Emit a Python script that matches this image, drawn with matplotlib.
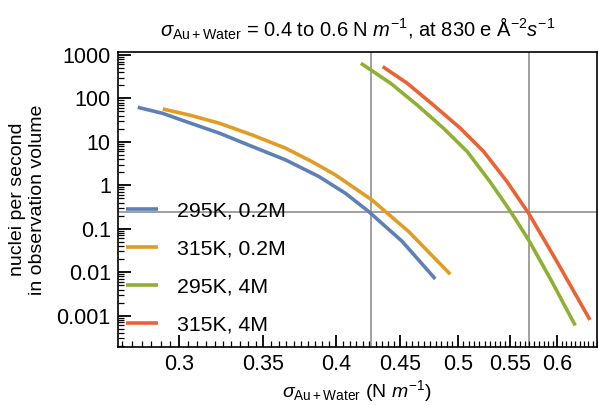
import matplotlib
matplotlib.use("Agg")
import matplotlib.pyplot as plt
from matplotlib.ticker import FixedLocator, NullFormatter

plt.rcParams["font.family"] = ["Liberation Sans", "DejaVu Sans"]
plt.rcParams["mathtext.fontset"] = "custom"
plt.rcParams["mathtext.rm"] = "Liberation Sans"
plt.rcParams["mathtext.it"] = "Liberation Sans:italic"

# values (sigma in N/m, rate in nuclei/s)
labels = ["295K, 0.2M", "315K, 0.2M", "295K, 4M", "315K, 4M"]
colors = ["#5E81B5", "#E19C24", "#8FB032", "#EB6235"]

sigma_295_02 = [0.278, 0.291, 0.3037, 0.323, 0.343, 0.3646, 0.3876, 0.4068, 0.4245, 0.4513, 0.4797]
rate_295_02 = [62, 45, 29.1, 15.7, 7.76, 3.82, 1.58, 0.655, 0.249, 0.0516, 0.0070]

sigma_315_02 = [0.291, 0.3055, 0.323, 0.343, 0.3646, 0.3828, 0.3995, 0.4271, 0.4568, 0.493]
rate_315_02 = [56.8, 41.3, 26.6, 14.3, 7.1, 3.47, 1.72, 0.459, 0.0863, 0.009]

sigma_295_4 = [0.4185, 0.442, 0.464, 0.487, 0.5086, 0.5307, 0.5505, 0.5692, 0.594, 0.620]
rate_295_4 = [638, 221, 70, 20.4, 5.95, 1.17, 0.252, 0.0553, 0.0061, 5.96e-4]

sigma_315_4 = [0.4356, 0.4557, 0.478, 0.5023, 0.5242, 0.547, 0.5692, 0.5995, 0.637]
rate_315_4 = [535, 221, 70, 20.4, 5.95, 1.22, 0.227, 0.0176, 8.0e-4]

series = [(sigma_295_02, rate_295_02), (sigma_315_02, rate_315_02),
          (sigma_295_4, rate_295_4), (sigma_315_4, rate_315_4)]

grid_x = [0.426, 0.570]
grid_y = 0.24
xticks = [0.3, 0.35, 0.4, 0.45, 0.5, 0.55, 0.6]
xtick_labels = ["0.3", "0.35", "0.4", "0.45", "0.5", "0.55", "0.6"]
xminor = [round(0.27 + 0.005 * i, 3) for i in range(76)]
yticks = [0.001, 0.01, 0.1, 1, 10, 100, 1000]
ytick_labels = ["0.001", "0.01", "0.1", "1", "10", "100", "1000"]

fig = plt.figure(figsize=(5.98, 4.05), dpi=100)
ax = fig.add_axes([0.197, 0.143, 0.801, 0.729])

for gx in grid_x:
    ax.axvline(gx, color="#999999", lw=1.3, zorder=1)
ax.axhline(grid_y, color="#999999", lw=1.3, zorder=1)

for (s, r), lab, c in zip(series, labels, colors):
    ax.plot(s, r, color=c, lw=2.6, label=lab, solid_capstyle="butt",
            solid_joinstyle="round", zorder=3)

ax.set_xscale("log")
ax.set_yscale("log")
ax.set_xlim(0.268, 0.645)
ax.set_ylim(1.9e-4, 1170)

# x: major every 0.05, minor every 0.005
ax.xaxis.set_major_locator(FixedLocator(xticks))
ax.set_xticklabels(xtick_labels)
ax.xaxis.set_minor_locator(FixedLocator(xminor))
ax.xaxis.set_minor_formatter(NullFormatter())

# y: decades, with dense minor ticks
ax.yaxis.set_major_locator(FixedLocator(yticks))
ax.set_yticklabels(ytick_labels)
yminor = [m * 10.0 ** e for e in range(-4, 4) for m in (2, 3, 4, 5, 6, 7, 8, 9)]
ax.yaxis.set_minor_locator(FixedLocator(yminor))
ax.yaxis.set_minor_formatter(NullFormatter())

ax.tick_params(axis="both", which="major", direction="in", length=9, width=1.3,
               labelsize=15.5, color="black", pad=5)
ax.tick_params(axis="both", which="minor", direction="in", length=4.5, width=0.9,
               color="black")
ax.tick_params(axis="x", which="both", bottom=True, top=False)
ax.tick_params(axis="y", which="both", left=True, right=False)
for sp in ax.spines.values():
    sp.set_linewidth(1.2)

ax.set_xlabel(r"$\sigma_{\mathrm{Au+Water}}$ (N $m^{-1}$)", fontsize=14, labelpad=2)
ax.set_ylabel("nuclei per second\nin observation volume", fontsize=14, labelpad=8)
ax.set_title(r"$\sigma_{\mathrm{Au+Water}}$ = 0.4 to 0.6 N $m^{-1}$, at 830 e Å$^{-2}s^{-1}$",
             fontsize=14.5, pad=11)

ax.legend(loc="upper left", bbox_to_anchor=(0.0, 0.522), frameon=False, fontsize=15.3,
          handlelength=1.5, handletextpad=0.9, labelspacing=0.9, borderaxespad=0)

fig.savefig("out.png", dpi=100)
